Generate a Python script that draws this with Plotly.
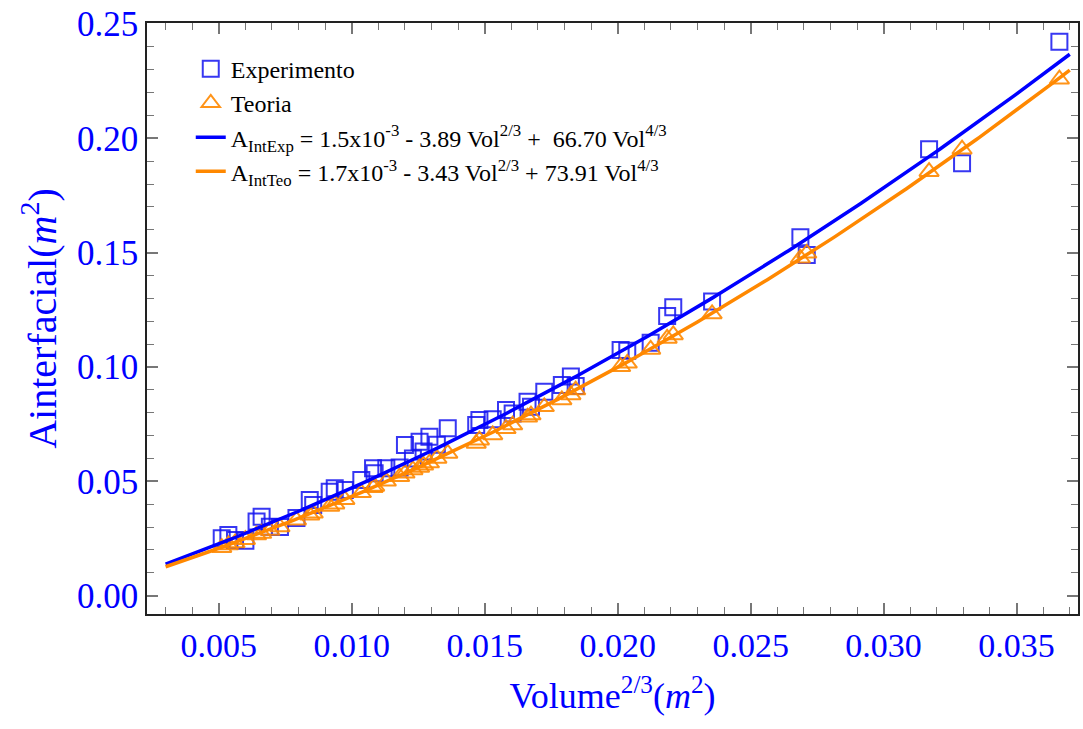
import numpy as np
import plotly.graph_objects as go

# Volume^(2/3) (m^2) for each measurement
vol23 = [0.00511, 0.00536, 0.00561, 0.00600, 0.00642, 0.00661, 0.00692, 0.00730,
         0.00792, 0.00842, 0.00855, 0.00917, 0.00936, 0.00974, 0.01036, 0.01080,
         0.01086, 0.01130, 0.01180, 0.01200, 0.01230, 0.01255, 0.01270, 0.01292,
         0.01320, 0.01361, 0.01468, 0.01480, 0.01530, 0.01580, 0.01605, 0.01661,
         0.01674, 0.01724, 0.01790, 0.01824, 0.01842, 0.02011, 0.02036, 0.02124,
         0.02186, 0.02209, 0.02355, 0.02687, 0.02711, 0.03171, 0.03295, 0.03661]

# Measured interfacial area (m^2)
a_exp = [0.0251, 0.0265, 0.0244, 0.0240, 0.0324, 0.0345, 0.0302, 0.0300,
         0.0340, 0.0418, 0.0397, 0.0455, 0.0470, 0.0462, 0.0506, 0.0557,
         0.0535, 0.0557, 0.0560, 0.0659, 0.0600, 0.0673, 0.0630, 0.0695,
         0.0660, 0.0732, 0.0746, 0.0768, 0.0771, 0.0812, 0.0797, 0.0848,
         0.0826, 0.0892, 0.0921, 0.0958, 0.0917, 0.1074, 0.1071, 0.1106,
         0.1223, 0.1261, 0.1286, 0.1567, 0.1490, 0.1952, 0.1891, 0.2422]

# Theoretical interfacial area (m^2)
a_teo = [0.0210, 0.0222, 0.0230, 0.0245, 0.0265, 0.0272, 0.0285, 0.0300,
         0.0330, 0.0352, 0.0360, 0.0390, 0.0400, 0.0420, 0.0450, 0.0472,
         0.0478, 0.0500, 0.0520, 0.0535, 0.0550, 0.0560, 0.0570, 0.0580,
         0.0600, 0.0622, 0.0666, 0.0680, 0.0703, 0.0730, 0.0746, 0.0780,
         0.0790, 0.0826, 0.0856, 0.0878, 0.0899, 0.1001, 0.1016, 0.1077,
         0.1125, 0.1140, 0.1232, 0.1475, 0.1497, 0.1854, 0.1952, 0.2258]

# Fit coefficients: constant, Vol^(2/3) term, Vol^(4/3) term
fit_exp = [1.5e-3, 3.89, 66.70]
fit_teo = [1.7e-3, 3.43, 73.91]
fit_span = [0.003, 0.037]

x_fit = np.linspace(fit_span[0], fit_span[1], 300)


def fit_curve(c, x):
    return c[0] + c[1] * x + c[2] * x ** 2


BLUE = "#0000ff"
ORANGE = "#ff8800"
SERIF = "Liberation Serif, Times New Roman, serif"

fig = go.Figure()

fig.add_trace(go.Scatter(
    x=vol23, y=a_exp, mode="markers", name="Experimento",
    marker=dict(symbol="square-open", size=16, color="rgba(20,20,240,0.85)",
                line=dict(width=2)),
))
fig.add_trace(go.Scatter(
    x=vol23, y=a_teo, mode="markers", name="Teoria",
    marker=dict(symbol="triangle-up-open", size=17, color="rgba(255,136,0,0.9)",
                line=dict(width=2)),
))
fig.add_trace(go.Scatter(
    x=x_fit, y=fit_curve(fit_exp, x_fit), mode="lines",
    name="A<sub>IntExp</sub> = 1.5x10<sup>-3</sup> - 3.89 Vol<sup>2/3</sup> +&nbsp; 66.70 Vol<sup>4/3</sup>",
    line=dict(color=BLUE, width=3.5),
))
fig.add_trace(go.Scatter(
    x=x_fit, y=fit_curve(fit_teo, x_fit), mode="lines",
    name="A<sub>IntTeo</sub> = 1.7x10<sup>-3</sup> - 3.43 Vol<sup>2/3</sup> + 73.91 Vol<sup>4/3</sup>",
    line=dict(color=ORANGE, width=3.5),
))

axis_common = dict(
    showgrid=False, zeroline=False,
    showline=True, linecolor="#222", linewidth=1.5, mirror="allticks",
    ticks="inside", ticklen=11, tickwidth=1.5, tickcolor="#777",
)

fig.update_xaxes(
    range=[0.0023, 0.03731], tick0=0, dtick=0.005, tickformat=".3f",
    tickfont=dict(family=SERIF, size=34, color=BLUE),
    minor=dict(dtick=0.001, ticks="inside", ticklen=7, tickwidth=1.2, tickcolor="#777"),
    title=dict(text="Volume<sup>2/3</sup>(<i>m</i><sup>2</sup>)",
               font=dict(family=SERIF, size=36, color=BLUE), standoff=20),
    **axis_common,
)
fig.update_yaxes(
    range=[-0.008, 0.2504], tick0=0, dtick=0.05, tickformat=".2f",
    tickfont=dict(family=SERIF, size=35, color=BLUE),
    minor=dict(dtick=0.01, ticks="inside", ticklen=7, tickwidth=1.2, tickcolor="#777"),
    title=dict(text="Ainterfacial(<i>m</i><sup>2</sup>)",
               font=dict(family=SERIF, size=40, color=BLUE), standoff=8),
    **axis_common,
)

fig.update_layout(
    width=1083, height=729,
    margin=dict(l=147, r=3, t=23, b=115),
    paper_bgcolor="white", plot_bgcolor="white",
    showlegend=True,
    legend=dict(x=0.047, y=0.96, xanchor="left", yanchor="top",
                bgcolor="rgba(0,0,0,0)",
                font=dict(family=SERIF, size=24, color="black"),
                tracegroupgap=0, itemsizing="trace"),
)

fig.write_html("out.html")
